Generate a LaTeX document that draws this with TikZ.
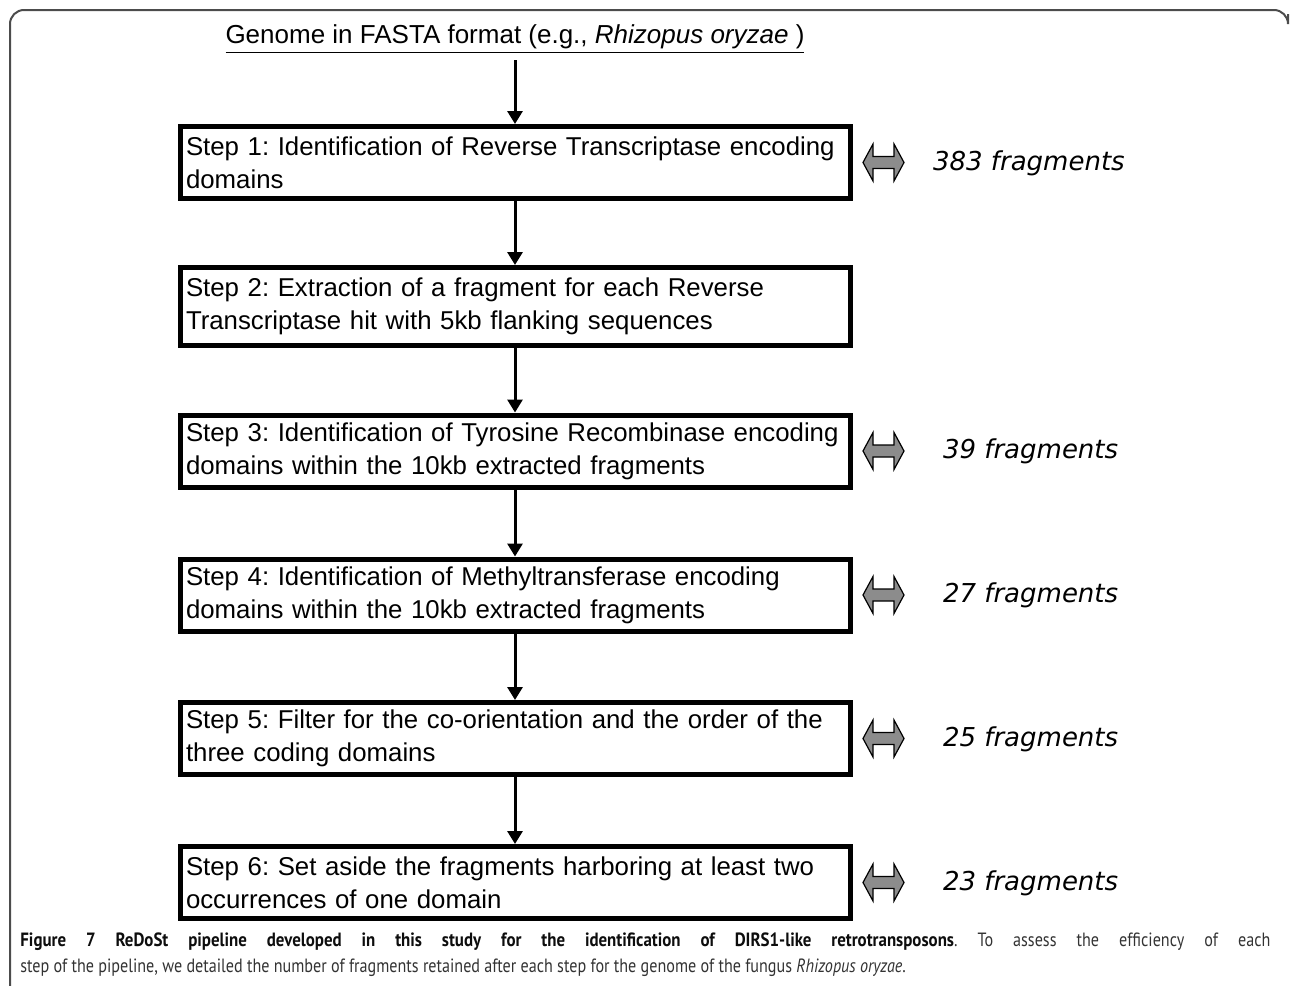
\documentclass[tikz,border=0pt]{standalone}
\usepackage{fontspec}
\setmainfont{Liberation Sans}
\newfontfamily\fragfont{DejaVu Sans}
\newfontfamily\capfont[FakeStretch=0.84]{PT Sans}
\newfontfamily\capbold[FakeStretch=0.88]{PT Sans Bold}
\frenchspacing
\usetikzlibrary{arrows.meta}
\tikzset{x=0.5pt, y=-0.5pt,
stepbox/.style={ % box of one pipeline step
draw,
line width=2.5pt,
minimum width=335pt,
minimum height=36pt,
text width=329pt,
inner xsep=3pt,
align=left,
font=\fontsize{12.9pt}{16.5pt}\selectfont},
flow/.style={ % arrow from one step to the next
line width=1.5pt,
-{Triangle[length=6.5pt,width=7.5pt]}},
dblarrow/.pic={ % grey double arrow beside a step
\draw[fill=black!45, line width=0.6pt] (-20.5,0) -- (-10.5,-18.5) -- (-10.5,-6) -- (10.5,-6)
  -- (10.5,-18.5) -- (20.5,0) -- (10.5,18.5) -- (10.5,6) -- (-10.5,6) -- (-10.5,18.5) -- cycle;},
count/.style={ % number of fragments kept
anchor=west,
font=\fragfont\itshape\fontsize{13pt}{15pt}\selectfont}}

\begin{document}
\begin{tikzpicture}
\useasboundingbox (0,0) rectangle (1290,985);
% frame of the figure
\draw[black!70, line width=1pt, rounded corners=7pt] (10,990) -- (10,10) -- (1288,10) -- (1288,14);

\node[font=\fontsize{13pt}{15pt}\selectfont] (genome) at (515,39) {\underline{Genome in FASTA format (e.g., \textit{Rhizopus oryzae} )}};

\node[stepbox] (s1) at (515,162.5) {\mbox{Step 1: Identification of Reverse Transcriptase encoding}\\domains};
\node[stepbox, minimum height=39pt] (s2) at (515,306.5) {\mbox{Step 2: Extraction of a fragment for each Reverse}\\Transcriptase hit with 5kb flanking sequences};
\node[stepbox] (s3) at (515,451) {\mbox{Step 3: Identification of Tyrosine Recombinase encoding}\\domains within the 10kb extracted fragments};
\node[stepbox] (s4) at (515,595) {\mbox{Step 4: Identification of Methyltransferase encoding}\\domains within the 10kb extracted fragments};
\node[stepbox] (s5) at (515,738.5) {\mbox{Step 5: Filter for the co-orientation and the order of the}\\three coding domains};
\node[stepbox] (s6) at (515,882.5) {\mbox{Step 6: Set aside the fragments harboring at least two}\\occurrences of one domain};

\draw[flow] (genome) -- (s1);
\draw[flow] (s1) -- (s2);
\draw[flow] (s2) -- (s3);
\draw[flow] (s3) -- (s4);
\draw[flow] (s4) -- (s5);
\draw[flow] (s5) -- (s6);

\pic (d1) at (883.5,162.5) {dblarrow};
\pic (d3) at (883.5,451) {dblarrow};
\pic (d4) at (883.5,595) {dblarrow};
\pic (d5) at (883.5,738.5) {dblarrow};
\pic (d6) at (883.5,882.5) {dblarrow};

\node[count] (n1) at (926,163) {383 fragments};
\node[count] (n3) at (936,451.5) {39 fragments};
\node[count] (n4) at (936,595.5) {27 fragments};
\node[count] (n5) at (936,739) {25 fragments};
\node[count] (n6) at (936,883) {23 fragments};

% caption
\node[anchor=north west, inner sep=0pt, text width=625pt, align=justify, text=black!80,
  font=\capfont\fontsize{9.6pt}{13pt}\selectfont] (cap) at (20,932)
  {{\capbold\color{black!95}Figure 7 ReDoSt pipeline developed in this study for the identification of DIRS1-like retrotransposons}. To assess the efficiency of each\linebreak step of the pipeline, we detailed the number of fragments retained after each step for the genome of the fungus \textit{Rhizopus oryzae}.};
\end{tikzpicture}
\end{document}
